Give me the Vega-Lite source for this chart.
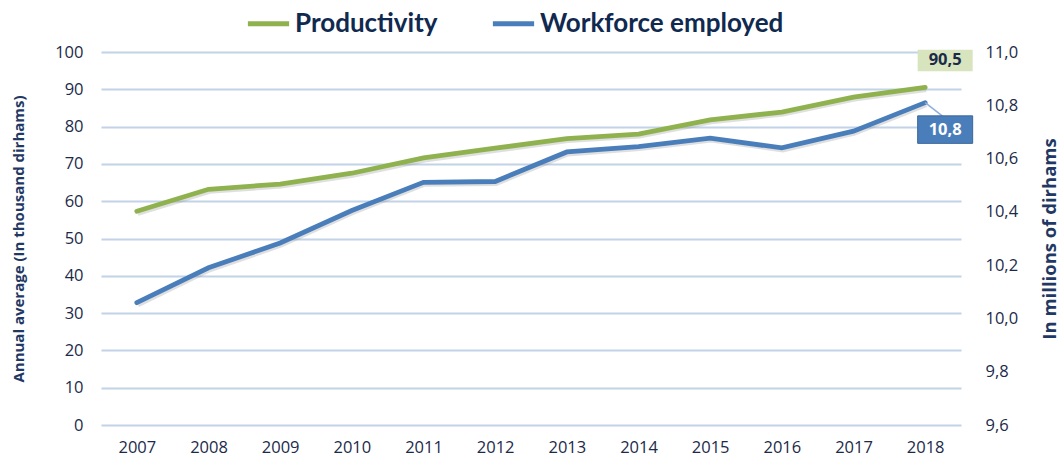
{
  "$schema": "https://vega.github.io/schema/vega-lite/v6.json",
  "width": 860,
  "height": 373,
  "autosize": {"type": "none"},
  "padding": {"left": 101, "top": 52, "right": 99, "bottom": 32},
  "background": "white",
  "config": {
    "view": {"stroke": null},
    "font": "Open Sans",
    "locale": {"number": {"decimal": ",", "thousands": ".", "grouping": [3], "currency": ["", ""]}},
    "axis": {"labelColor": "#1B2A4A", "titleColor": "#1F3864", "labelFontSize": 16.5, "titleFontSize": 15, "titleFontWeight": "bold", "ticks": false, "domain": false},
    "legend": {"orient": "none", "legendX": 144, "legendY": -52, "direction": "horizontal", "symbolType": "stroke", "symbolStrokeWidth": 5, "symbolSize": 1700, "labelFont": "Lato", "labelFontSize": 26, "labelFontWeight": "bold", "labelColor": "#10294F", "columnPadding": 44, "labelOffset": 3, "title": null, "labelLimit": 400}
  },
  "data": {
    "values": [
      {"year": "2007", "series": "Productivity", "value": 57.3},
      {"year": "2008", "series": "Productivity", "value": 63.2},
      {"year": "2009", "series": "Productivity", "value": 64.6},
      {"year": "2010", "series": "Productivity", "value": 67.5},
      {"year": "2011", "series": "Productivity", "value": 71.6},
      {"year": "2012", "series": "Productivity", "value": 74.2},
      {"year": "2013", "series": "Productivity", "value": 76.8},
      {"year": "2014", "series": "Productivity", "value": 78.0},
      {"year": "2015", "series": "Productivity", "value": 81.8},
      {"year": "2016", "series": "Productivity", "value": 83.9},
      {"year": "2017", "series": "Productivity", "value": 87.9},
      {"year": "2018", "series": "Productivity", "value": 90.5},
      {"year": "2007", "series": "Workforce employed", "value": 10.059},
      {"year": "2008", "series": "Workforce employed", "value": 10.19},
      {"year": "2009", "series": "Workforce employed", "value": 10.283},
      {"year": "2010", "series": "Workforce employed", "value": 10.405},
      {"year": "2011", "series": "Workforce employed", "value": 10.511},
      {"year": "2012", "series": "Workforce employed", "value": 10.514},
      {"year": "2013", "series": "Workforce employed", "value": 10.625},
      {"year": "2014", "series": "Workforce employed", "value": 10.645},
      {"year": "2015", "series": "Workforce employed", "value": 10.677},
      {"year": "2016", "series": "Workforce employed", "value": 10.64},
      {"year": "2017", "series": "Workforce employed", "value": 10.703},
      {"year": "2018", "series": "Workforce employed", "value": 10.81}
    ]
  },
  "encoding": {
    "x": {"field": "year", "type": "ordinal", "scale": {"type": "point", "padding": 0.5}, "axis": {"title": null, "labelAngle": 0, "labelPadding": 14, "grid": false}}
  },
  "layer": [
    {
      "transform": [{"filter": "datum.series === 'Productivity'"}],
      "encoding": {
        "y": {"field": "value", "type": "quantitative", "scale": {"domain": [0, 100], "nice": false, "zero": true},
          "axis": {"title": "Annual average (In thousand dirhams)", "values": [0,10,20,30,40,50,60,70,80,90,100], "grid": true, "gridColor": "#C2D3E8", "gridWidth": 2, "labelPadding": 18, "titlePadding": 28}}
      },
      "layer": [
        {"mark": {"type": "line", "color": "#808080", "opacity": 0.25, "strokeWidth": 5, "yOffset": 2, "xOffset": 1}},
        {"mark": {"type": "line", "strokeWidth": 4.8, "strokeCap": "round"},
          "encoding": {"color": {"field": "series", "type": "nominal", "scale": {"domain": ["Productivity", "Workforce employed"], "range": ["#8FB24F", "#4A7EBB"]}}}},
        {"transform": [{"filter": "datum.year === '2018'"}],
          "mark": {"type": "point", "shape": "M-1,-0.39L1,-0.39L1,0.39L-1,0.39Z", "size": 3025, "filled": true, "opacity": 1, "fill": "#D7E4BD", "strokeWidth": 0, "xOffset": 20, "yOffset": -27}},
        {"transform": [{"filter": "datum.year === '2018'"}],
          "mark": {"type": "text", "fontWeight": "bold", "fontSize": 16.5, "color": "#1B2A4A", "xOffset": 20, "yOffset": -27, "baseline": "middle", "align": "center"},
          "encoding": {"text": {"field": "value", "type": "quantitative", "format": ".1f"}}}
      ]
    },
    {
      "transform": [{"filter": "datum.series === 'Workforce employed'"}],
      "encoding": {
        "y": {"field": "value", "type": "quantitative", "scale": {"domain": [9.6, 11.0], "nice": false, "zero": false},
          "axis": {"orient": "right", "title": "In millions of dirhams", "titleFontSize": 18.5, "values": [9.6,9.8,10.0,10.2,10.4,10.6,10.8,11.0], "format": ".1f", "grid": false, "labelPadding": 24, "titlePadding": 42, "titleAngle": 270}}
      },
      "layer": [
        {"mark": {"type": "line", "color": "#808080", "opacity": 0.25, "strokeWidth": 5, "yOffset": 2, "xOffset": 1}},
        {"mark": {"type": "line", "strokeWidth": 4.8, "strokeCap": "round"},
          "encoding": {"color": {"field": "series", "type": "nominal"}}},
        {"transform": [{"filter": "datum.year === '2018'"}],
          "mark": {"type": "rule", "color": "#8FAFD8", "strokeWidth": 1.5, "x2Offset": 18, "y2Offset": 14},
          "encoding": {"x2": {"field": "year"}, "y2": {"field": "value"}}},
        {"transform": [{"filter": "datum.year === '2018'"}],
          "mark": {"type": "point", "shape": "M-1,-0.5L1,-0.5L1,0.5L-1,0.5Z", "size": 3025, "filled": true, "opacity": 1, "fill": "#4A7EBB", "stroke": "#3B6699", "strokeWidth": 1, "xOffset": 20, "yOffset": 27}},
        {"transform": [{"filter": "datum.year === '2018'"}],
          "mark": {"type": "text", "fontWeight": "bold", "fontSize": 16.5, "color": "white", "xOffset": 20, "yOffset": 27, "baseline": "middle", "align": "center"},
          "encoding": {"text": {"field": "value", "type": "quantitative", "format": ".1f"}}}
      ]
    }
  ],
  "resolve": {"scale": {"y": "independent"}}
}
